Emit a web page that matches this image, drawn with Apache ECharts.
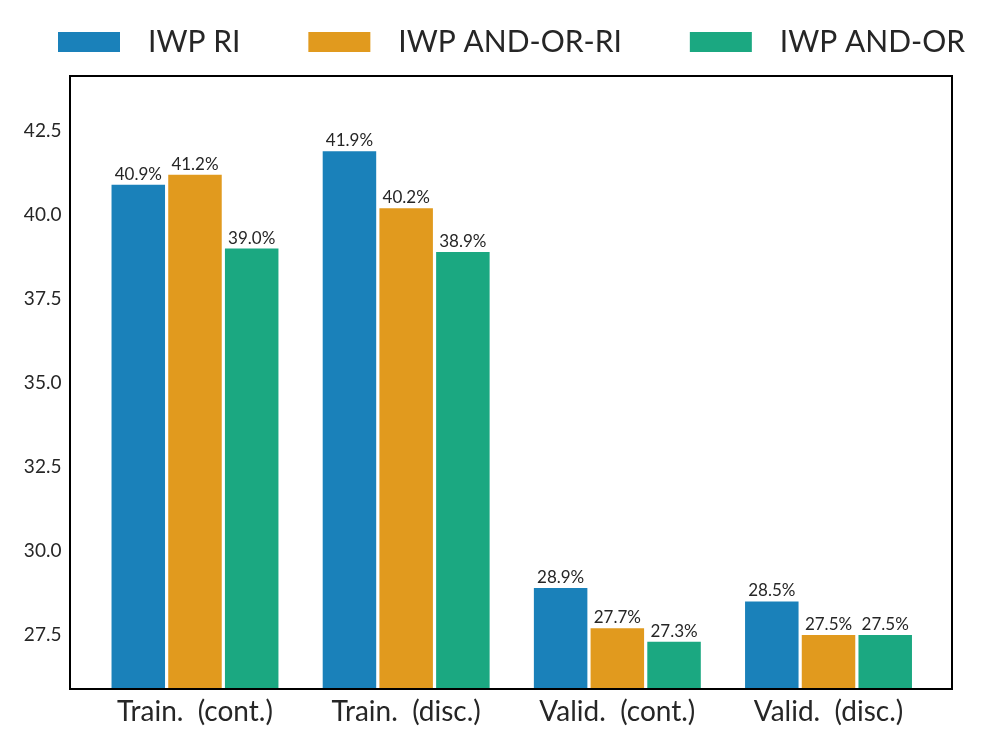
<!DOCTYPE html>
<html>
<head>
<meta charset="utf-8">
<script src="https://cdn.jsdelivr.net/npm/echarts@6/dist/echarts.min.js"></script>
<style>html,body{margin:0;padding:0;background:#fff;}#c{width:997px;height:746px;}</style>
</head>
<body>
<div id="c"></div>
<script>
const categories = ['Train.  (cont.)', 'Train.  (disc.)', 'Valid.  (cont.)', 'Valid.  (disc.)'];
const seriesNames = ['IWP RI', 'IWP AND-OR-RI', 'IWP AND-OR'];
const iwpRI = [40.9, 41.9, 28.9, 28.5];
const iwpAndOrRI = [41.2, 40.2, 27.7, 27.5];
const iwpAndOr = [39.0, 38.9, 27.3, 27.5];
const yTicks = [27.5, 30.0, 32.5, 35.0, 37.5, 40.0, 42.5];
const yMin = 25.893, yMax = 44.137;

const colors = ['#1a81ba', '#e19a1e', '#1ba881'];
const FONT = 'Lato';
const TXT = '#262626';

const chart = echarts.init(document.getElementById('c'), null, {renderer: 'canvas'});
const values = [iwpRI, iwpAndOrRI, iwpAndOr];
chart.setOption({
  animation: false,
  backgroundColor: '#fff',
  textStyle: {fontFamily: FONT, color: TXT},
  legend: {
    left: 58, top: 27, padding: 0,
    itemWidth: 62, itemHeight: 20, itemGap: 68,
    icon: 'rect',
    textStyle: {fontFamily: FONT, fontSize: 30, color: TXT, padding: [0, 0, 0, 23]},
    data: seriesNames
  },
  grid: {left: 89.4, right: 62.9, top: 76, bottom: 57, containLabel: false},
  graphic: [{
    type: 'rect', z: 100, silent: true,
    shape: {x: 70, y: 76, width: 882, height: 613},
    style: {fill: null, stroke: '#000', lineWidth: 2}
  }],
  xAxis: {
    type: 'category', data: categories,
    axisLine: {show: false}, axisTick: {show: false},
    axisLabel: {fontFamily: FONT, fontSize: 28, color: TXT, margin: 9}
  },
  yAxis: {
    type: 'value', min: yMin, max: yMax,
    axisLine: {show: false}, axisTick: {show: false}, splitLine: {show: false},
    axisLabel: {
      fontFamily: FONT, fontSize: 19, color: TXT, margin: 28,
      customValues: yTicks,
      formatter: v => v.toFixed(1)
    }
  },
  series: seriesNames.map((n, i) => ({
    name: n, type: 'bar', data: values[i],
    barWidth: 53.5, barGap: '6%',
    itemStyle: {color: colors[i]},
    label: {
      show: true, position: 'top', distance: 2,
      fontFamily: FONT, fontSize: 17, color: TXT,
      formatter: p => p.value.toFixed(1) + '%'
    }
  }))
});
</script>
</body>
</html>
